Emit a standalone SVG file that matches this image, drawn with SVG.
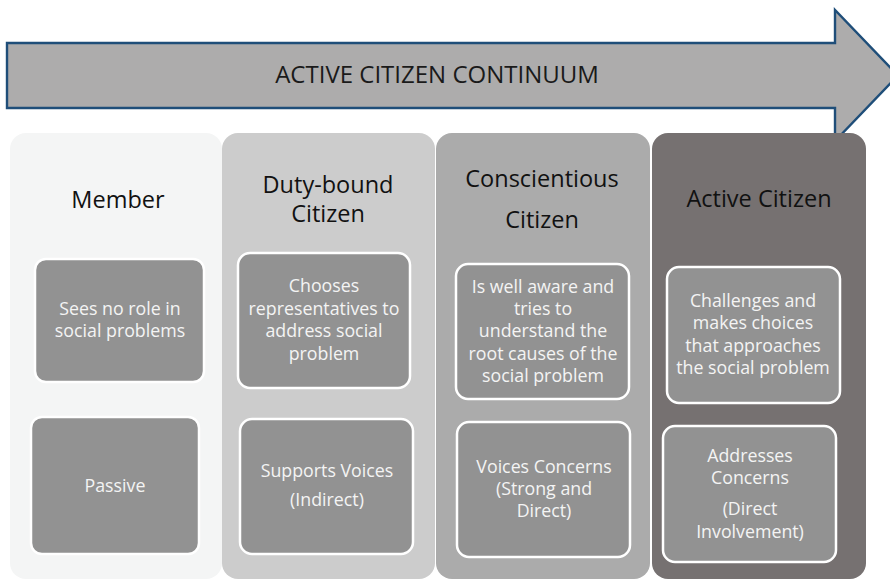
<svg xmlns="http://www.w3.org/2000/svg" width="890" height="579" viewBox="0 0 890 579">
<style>
.col{stroke:none}
.box{fill:#929292;stroke:#ffffff;stroke-width:2.5}
.hd{font-family:"Open Sans","Noto Sans",sans-serif;font-size:23.5px;fill:#111111;text-anchor:middle}
.tx{font-family:"Open Sans","Noto Sans",sans-serif;font-size:17.8px;fill:#f4f4f4;text-anchor:middle}
.title{font-family:"Open Sans","Noto Sans",sans-serif;font-size:24px;fill:#1a1a1a;text-anchor:middle}
</style>
<rect width="890" height="579" fill="#ffffff"/>
<g id="arrow">
  <path d="M7,43 H835 V10 L898,75.5 L835,141 V108 H7 Z" fill="#adacac" stroke="#1f4e79" stroke-width="2.4" stroke-linejoin="miter"/>
  <text class="title" x="437" y="83">ACTIVE CITIZEN CONTINUUM</text>
</g>
<g id="col-member">
  <rect class="col" x="10" y="133" width="212" height="446" rx="16" fill="#f4f5f5"/>
  <text class="hd" x="118" y="208">Member</text>
  <g id="member-1">
    <rect class="box" x="35" y="259" width="169" height="123" rx="11"/>
    <text class="tx" x="120" y="315">Sees no role in</text>
    <text class="tx" x="120" y="337">social problems</text>
  </g>
  <g id="member-2">
    <rect class="box" x="31" y="417" width="168" height="137" rx="11"/>
    <text class="tx" x="115" y="492">Passive</text>
  </g>
</g>
<g id="col-duty">
  <rect class="col" x="222" y="133" width="213" height="446" rx="16" fill="#cccccc"/>
  <text class="hd" x="328" y="193">Duty-bound</text>
  <text class="hd" x="328" y="222">Citizen</text>
  <g id="duty-1">
    <rect class="box" x="238" y="253" width="172" height="135" rx="12"/>
    <text class="tx" x="324" y="292">Chooses</text>
    <text class="tx" x="324" y="315">representatives to</text>
    <text class="tx" x="324" y="337">address social</text>
    <text class="tx" x="324" y="360">problem</text>
  </g>
  <g id="duty-2">
    <rect class="box" x="240" y="419" width="173" height="135" rx="12"/>
    <text class="tx" x="327" y="477">Supports Voices</text>
    <text class="tx" x="327" y="506">(Indirect)</text>
  </g>
</g>
<g id="col-conscientious">
  <rect class="col" x="436" y="133" width="214" height="446" rx="16" fill="#ababab"/>
  <text class="hd" x="542" y="187">Conscientious</text>
  <text class="hd" x="542" y="228">Citizen</text>
  <g id="cons-1">
    <rect class="box" x="456" y="264" width="173" height="135" rx="12"/>
    <text class="tx" x="543" y="293">Is well aware and</text>
    <text class="tx" x="543" y="315">tries to</text>
    <text class="tx" x="543" y="337">understand the</text>
    <text class="tx" x="543" y="360">root causes of the</text>
    <text class="tx" x="543" y="382">social problem</text>
  </g>
  <g id="cons-2">
    <rect class="box" x="457" y="422" width="173" height="135" rx="12"/>
    <text class="tx" x="544" y="473">Voices Concerns</text>
    <text class="tx" x="544" y="495">(Strong and</text>
    <text class="tx" x="544" y="517">Direct)</text>
  </g>
</g>
<g id="col-active">
  <rect class="col" x="652" y="133" width="214" height="446" rx="16" fill="#767171"/>
  <text class="hd" x="759" y="207">Active Citizen</text>
  <g id="active-1">
    <rect class="box" x="667" y="267" width="173" height="136" rx="12"/>
    <text class="tx" x="753" y="307">Challenges and</text>
    <text class="tx" x="753" y="329">makes choices</text>
    <text class="tx" x="753" y="352">that approaches</text>
    <text class="tx" x="753" y="374">the social problem</text>
  </g>
  <g id="active-2">
    <rect class="box" x="663" y="426" width="173" height="136" rx="12"/>
    <text class="tx" x="750" y="462">Addresses</text>
    <text class="tx" x="750" y="484">Concerns</text>
    <text class="tx" x="750" y="515">(Direct</text>
    <text class="tx" x="750" y="538">Involvement)</text>
  </g>
</g>
<g id="connectors"></g>
</svg>
